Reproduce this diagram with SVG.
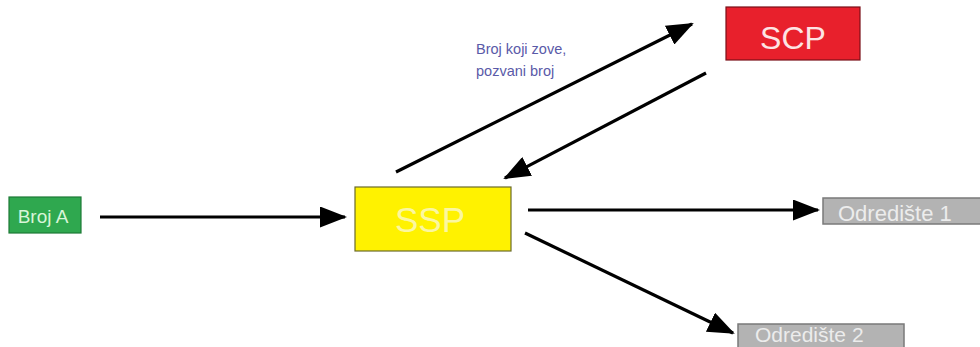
<svg xmlns="http://www.w3.org/2000/svg" width="980" height="347" viewBox="0 0 980 347">
<style>
text{font-family:"Liberation Sans",Arial,sans-serif}
.conn line{stroke:#000;stroke-width:3.2;marker-end:url(#ah)}
.dest rect{fill:#b3b3b3;stroke:#7a7a7a;stroke-width:1.5}
.dest text{fill:#ececec;font-size:22px}
</style>
<defs>
<marker id="ah" markerUnits="userSpaceOnUse" viewBox="0 0 27 21" refX="25" refY="10.5" markerWidth="27" markerHeight="21" orient="auto">
<path d="M0,0 L27,10.5 L0,21 Z" fill="#000"/>
</marker>
</defs>
<rect width="980" height="347" fill="#fff"/>
<g id="brojA">
<rect x="9" y="197" width="72" height="36" fill="#2fa84f" stroke="#1d7a36" stroke-width="1.2"/>
<text x="43" y="223" font-size="19" fill="#d8f5d8" text-anchor="middle">Broj A</text>
</g>
<g id="ssp">
<rect x="355" y="187" width="156" height="64" fill="#fff200" stroke="#6b6b2a" stroke-width="1.2"/>
<text x="430" y="232" font-size="35" fill="#fbf7a0" text-anchor="middle">SSP</text>
</g>
<g id="scp">
<rect x="726" y="7" width="134" height="53" fill="#e8202c" stroke="#7a1018" stroke-width="1.2"/>
<text x="793" y="49" font-size="32" fill="#fde4e4" text-anchor="middle">SCP</text>
</g>
<g id="odrediste1" class="dest">
<rect x="823" y="198" width="165" height="26"/>
<text x="838" y="221">Odredište 1</text>
</g>
<g id="odrediste2" class="dest">
<rect x="738" y="324" width="166" height="30"/>
<text x="755" y="342" style="font-size:21px">Odredište 2</text>
</g>
<g id="label">
<text x="476" y="54" font-size="14.5" fill="#5a5aa8">Broj koji zove,</text>
<text x="476" y="76" font-size="14.5" fill="#5a5aa8">pozvani broj</text>
</g>
<g id="connectors" class="conn">
<line x1="100" y1="217" x2="345" y2="217"/>
<line x1="396" y1="172" x2="692" y2="24"/>
<line x1="706" y1="73" x2="505" y2="178"/>
<line x1="528" y1="210" x2="818" y2="210"/>
<line x1="525" y1="233" x2="733" y2="333"/>
</g>
</svg>
